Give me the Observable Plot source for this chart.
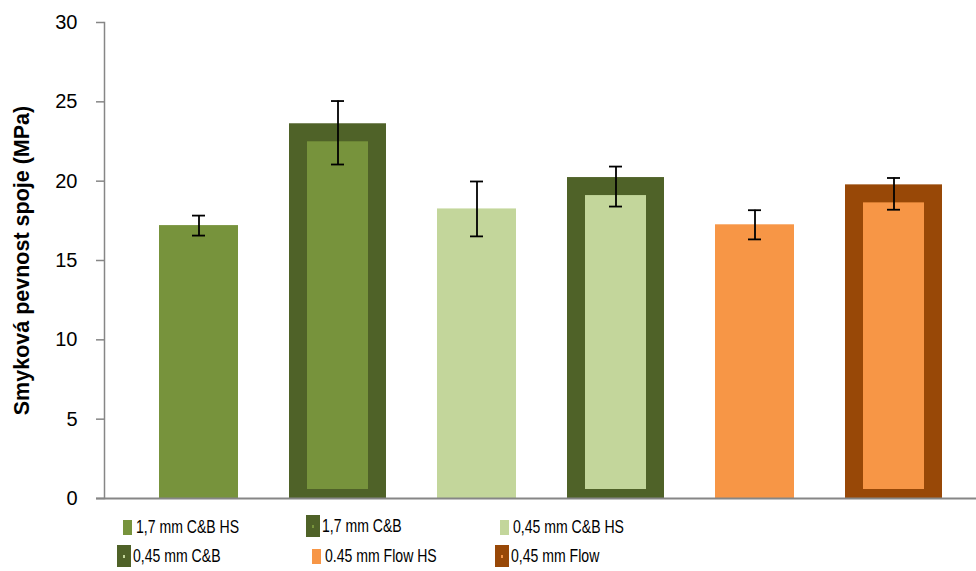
<!DOCTYPE html>
<html><head><meta charset="utf-8">
<script src="https://cdn.jsdelivr.net/npm/d3@7"></script>
<script src="https://cdn.jsdelivr.net/npm/@observablehq/plot@0.6"></script>
<style>
body{margin:0;background:#fff;font-family:"Liberation Sans",Arial,sans-serif;}
#wrap{position:relative;width:976px;height:571px;overflow:hidden}
#wrap svg{display:block}
.leg{position:absolute;height:24px;display:flex;align-items:center;font-size:19px;color:#000;white-space:nowrap}
.leg span{display:inline-block;transform:scaleX(0.74);transform-origin:left center}
.sw{flex:none;display:flex;align-items:center;justify-content:center}
</style></head><body><div id="wrap"></div>
<script>
const categories = ["1,7 mm C&B HS","1,7 mm C&B","0,45 mm C&B HS","0,45 mm C&B","0.45 mm Flow HS","0,45 mm Flow"];
const values = [17.2, 23.05, 18.25, 19.66, 17.25, 19.2];
const errors = [0.63, 2.0, 1.73, 1.26, 0.92, 1.0];
const fills = ["#77933C","#77933C","#C3D69B","#C3D69B","#F79646","#F79646"];
const strokes = [null,"#4F6228",null,"#4F6228",null,"#984807"];
const yTicks = [0,5,10,15,20,25,30];
const yLabel = "Smyková pevnost spoje (MPa)";

const data = categories.map((c,i)=>({c, v: values[i], e: errors[i], fill: fills[i], stroke: strokes[i]}));

const chart = Plot.plot({
  width: 976, height: 512,
  marginTop: 22, marginBottom: 14, marginLeft: 104, marginRight: 0,
  style: {fontFamily: "'Liberation Sans', Arial, sans-serif", background: "#fff", color: "#000", overflow: "visible"},
  x: {domain: categories, range: [126.7, 964.3], paddingInner: 0.434, paddingOuter: 0.217, axis: null},
  y: {domain: [0, 30], axis: null},
  color: {type: "identity"},
  marks: [
    Plot.barY(data.filter(d => !d.stroke), {x: "c", y: "v", fill: "fill"}),
    Plot.barY(data.filter(d => d.stroke), {x: "c", y: "v", fill: "fill", stroke: "stroke", strokeWidth: 18, clip: true}),
    Plot.frame({anchor: "left", stroke: "#868686", strokeWidth: 1.5}),
    Plot.ruleY([0], {stroke: "#868686", strokeWidth: 2, insetLeft: -8}),
    Plot.axisY(yTicks, {tickSize: 8, tickPadding: 19, fontSize: 20, stroke: "#868686", strokeWidth: 1.5, fill: "#000", label: null}),
    Plot.ruleX(data, {x: "c", y1: d => d.v - d.e, y2: d => d.v + d.e, stroke: "#000", strokeWidth: 1.8}),
    Plot.tickY(data, {x: "c", y: d => d.v + d.e, stroke: "#000", strokeWidth: 1.8, insetLeft: 33, insetRight: 33}),
    Plot.tickY(data, {x: "c", y: d => d.v - d.e, stroke: "#000", strokeWidth: 1.8, insetLeft: 33, insetRight: 33}),
    Plot.text([yLabel], {frameAnchor: "left", textAnchor: "middle", dx: -82, rotate: -90, fontSize: 21.5, fontWeight: "bold", fill: "#000"})
  ]
});
const wrap = document.getElementById("wrap");
wrap.appendChild(chart);

// legend (Excel-style order: 3 per row)
const legendPos = [[119,527],[306,526],[496,527],[117,556],[308,556],[495,556]];
categories.forEach((c,i)=>{
  const it = document.createElement("div");
  it.className = "leg";
  it.style.left = legendPos[i][0] + "px";
  it.style.top = (legendPos[i][1] - 12) + "px";
  const sw = document.createElement("div");
  sw.className = "sw";
  if (strokes[i]) {
    sw.style.width = "14px"; sw.style.height = "22px"; sw.style.background = strokes[i];
    sw.style.marginRight = "2px";
    const inner = document.createElement("div");
    inner.style.width = "2px"; inner.style.height = "3px"; inner.style.background = fills[i];
    sw.appendChild(inner);
  } else {
    sw.style.width = "9px"; sw.style.height = "15px"; sw.style.background = fills[i];
    sw.style.marginLeft = "4px"; sw.style.marginRight = "4px";
  }
  it.appendChild(sw);
  const t = document.createElement("span");
  t.textContent = c;
  it.appendChild(t);
  wrap.appendChild(it);
});
</script></body></html>
